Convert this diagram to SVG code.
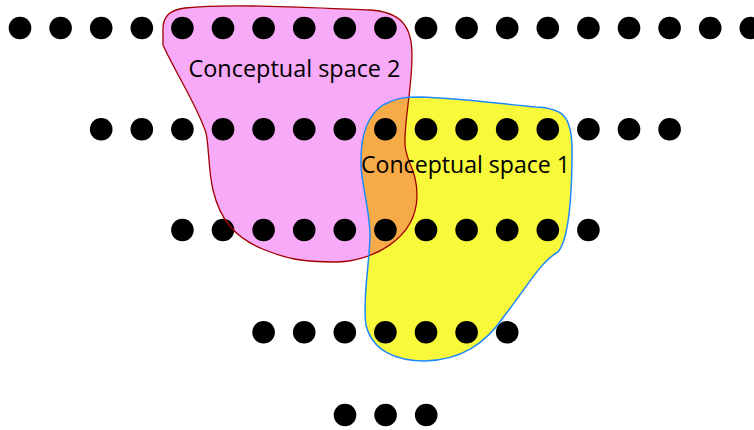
<svg xmlns="http://www.w3.org/2000/svg" width="754" height="430" viewBox="0 0 754 430">
<style>
.dot{fill:#000}
.lbl{font-family:"Open Sans","DejaVu Sans",sans-serif;font-size:24px;fill:#000}
</style>
<defs>
<path id="p2" d="M 163,32 C 162,16 170,10 185,8 C 230,3 320,8 370,10 C 400,12 412,25 412,55 C 412,90 404,120 405,145 C 406,162 417,170 417,195 C 417,240 370,262 335,262 C 300,262 285,258 265,250 C 235,238 220,220 213,190 C 208,168 209,145 206,133 C 197,105 175,72 163,45 Z"/>
<path id="p1" d="M 383,105 C 395,98 405,97 420,97 C 460,98 500,104 535,107 C 562,108 572,115 572,150 C 572,200 568,240 558,252 C 540,262 525,290 505,315 C 485,345 460,360 425,361 C 395,361 372,350 366,325 C 362,300 370,260 370,235 C 370,210 360,180 361,160 C 361,135 368,115 383,105 Z"/>
<clipPath id="c1"><use href="#p1"/></clipPath>
</defs>
<g id="space2-fill"><use href="#p2" fill="#f7aaf8"/></g>
<g id="space1-fill"><use href="#p1" fill="#f7f93a"/></g>
<g id="overlap"><use href="#p2" fill="#f7ab48" clip-path="url(#c1)"/></g>
<g id="dots">
<g id="row1">
<circle class="dot" cx="20" cy="28" r="11.3"/><circle class="dot" cx="60.6" cy="28" r="11.3"/><circle class="dot" cx="101.2" cy="28" r="11.3"/><circle class="dot" cx="141.8" cy="28" r="11.3"/><circle class="dot" cx="182.4" cy="28" r="11.3"/><circle class="dot" cx="223" cy="28" r="11.3"/><circle class="dot" cx="263.6" cy="28" r="11.3"/><circle class="dot" cx="304.2" cy="28" r="11.3"/><circle class="dot" cx="344.8" cy="28" r="11.3"/><circle class="dot" cx="385.4" cy="28" r="11.3"/><circle class="dot" cx="426" cy="28" r="11.3"/><circle class="dot" cx="466.6" cy="28" r="11.3"/><circle class="dot" cx="507.2" cy="28" r="11.3"/><circle class="dot" cx="547.8" cy="28" r="11.3"/><circle class="dot" cx="588.4" cy="28" r="11.3"/><circle class="dot" cx="629" cy="28" r="11.3"/><circle class="dot" cx="669.6" cy="28" r="11.3"/><circle class="dot" cx="710.2" cy="28" r="11.3"/><circle class="dot" cx="750.8" cy="28" r="11.3"/>
</g>
<g id="row2">
<circle class="dot" cx="101.2" cy="129.3" r="11.3"/><circle class="dot" cx="141.8" cy="129.3" r="11.3"/><circle class="dot" cx="182.4" cy="129.3" r="11.3"/><circle class="dot" cx="223" cy="129.3" r="11.3"/><circle class="dot" cx="263.6" cy="129.3" r="11.3"/><circle class="dot" cx="304.2" cy="129.3" r="11.3"/><circle class="dot" cx="344.8" cy="129.3" r="11.3"/><circle class="dot" cx="385.4" cy="129.3" r="11.3"/><circle class="dot" cx="426" cy="129.3" r="11.3"/><circle class="dot" cx="466.6" cy="129.3" r="11.3"/><circle class="dot" cx="507.2" cy="129.3" r="11.3"/><circle class="dot" cx="547.8" cy="129.3" r="11.3"/><circle class="dot" cx="588.4" cy="129.3" r="11.3"/><circle class="dot" cx="629" cy="129.3" r="11.3"/><circle class="dot" cx="669.6" cy="129.3" r="11.3"/>
</g>
<g id="row3">
<circle class="dot" cx="182.4" cy="230" r="11.3"/><circle class="dot" cx="223" cy="230" r="11.3"/><circle class="dot" cx="263.6" cy="230" r="11.3"/><circle class="dot" cx="304.2" cy="230" r="11.3"/><circle class="dot" cx="344.8" cy="230" r="11.3"/><circle class="dot" cx="385.4" cy="230" r="11.3"/><circle class="dot" cx="426" cy="230" r="11.3"/><circle class="dot" cx="466.6" cy="230" r="11.3"/><circle class="dot" cx="507.2" cy="230" r="11.3"/><circle class="dot" cx="547.8" cy="230" r="11.3"/><circle class="dot" cx="588.4" cy="230" r="11.3"/>
</g>
<g id="row4">
<circle class="dot" cx="263.6" cy="332.3" r="11.3"/><circle class="dot" cx="304.2" cy="332.3" r="11.3"/><circle class="dot" cx="344.8" cy="332.3" r="11.3"/><circle class="dot" cx="385.4" cy="332.3" r="11.3"/><circle class="dot" cx="426" cy="332.3" r="11.3"/><circle class="dot" cx="466.6" cy="332.3" r="11.3"/><circle class="dot" cx="507.2" cy="332.3" r="11.3"/>
</g>
<g id="row5">
<circle class="dot" cx="345" cy="415" r="11.3"/><circle class="dot" cx="385.6" cy="415" r="11.3"/><circle class="dot" cx="426.2" cy="415" r="11.3"/>
</g>
</g>
<g id="outlines">
<use href="#p2" fill="none" stroke="#a00000" stroke-width="1.3"/>
<use href="#p1" fill="none" stroke="#1e88ff" stroke-width="1.5"/>
</g>
<g id="labels">
<text class="lbl" x="188.5" y="77" textLength="212" lengthAdjust="spacingAndGlyphs">Conceptual space 2</text>
<text class="lbl" x="361" y="172.5" textLength="209" lengthAdjust="spacingAndGlyphs">Conceptual space 1</text>
</g>
</svg>
